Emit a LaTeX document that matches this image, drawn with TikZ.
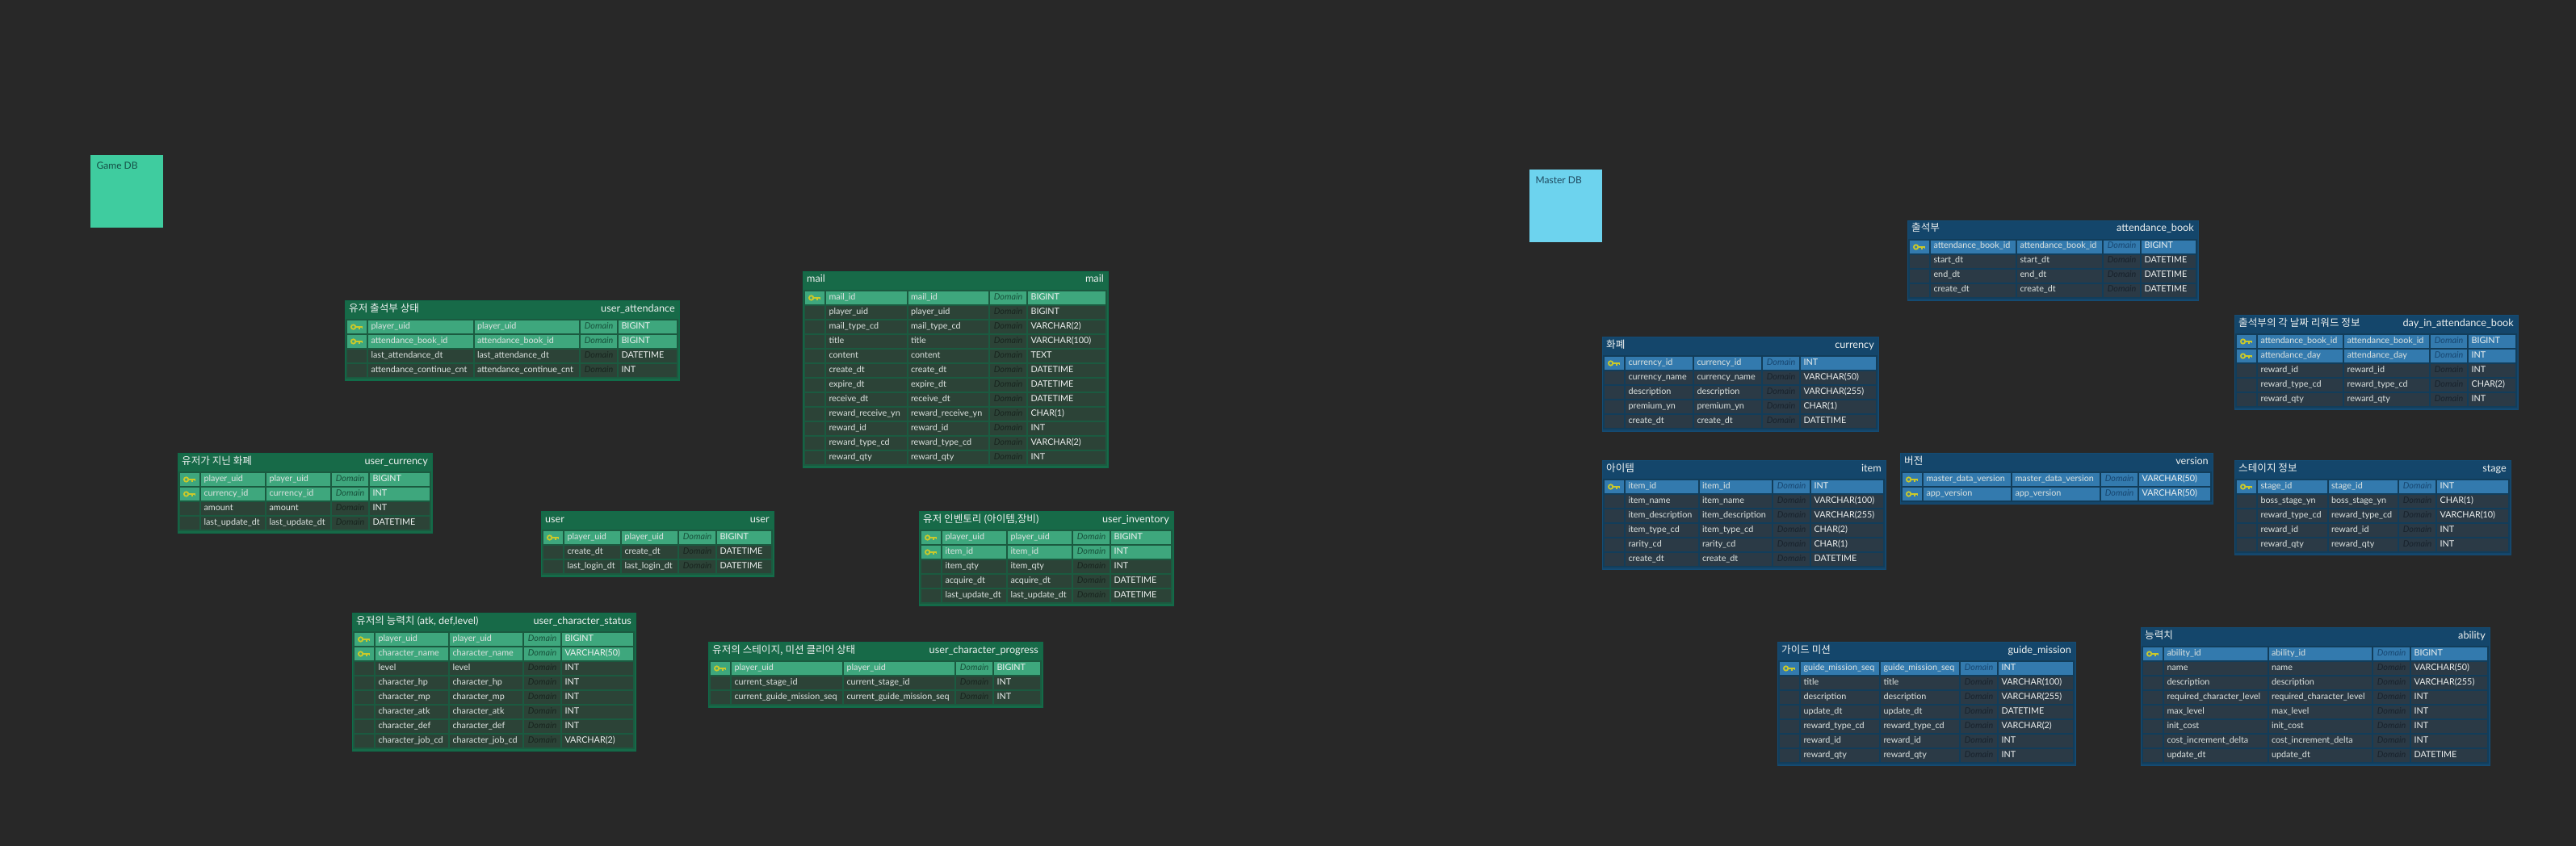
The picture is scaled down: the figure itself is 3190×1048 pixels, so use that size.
\documentclass[tikz,border=0pt]{standalone}
\usepackage{fontspec}
\setmainfont{Lato}
\newfontfamily\kofont{Noto Sans CJK KR}
\usetikzlibrary{matrix, positioning}

\definecolor{bgcol}{HTML}{282828}
\definecolor{celltext}{HTML}{DDE3E0}
\definecolor{typetext}{HTML}{EEF1F0}
\definecolor{keycol}{HTML}{CBC92A}
\definecolor{gamenote}{HTML}{3FCC9F}
\definecolor{gamenotetext}{HTML}{155047}
\definecolor{masternote}{HTML}{6DD3EE}
\definecolor{masternotetext}{HTML}{1F4A60}

% one colour set for each database
\newcommand{\setgreen}{%
    \definecolor{headcol}{HTML}{176A48}%
    \definecolor{framecol}{HTML}{0F6C49}%
    \definecolor{gridcol}{HTML}{1B5A40}%
    \definecolor{pkcol}{HTML}{3EA77D}%
    \definecolor{rowcol}{HTML}{2C4337}%
    \definecolor{pkdom}{HTML}{17503A}%
    \definecolor{rowdom}{HTML}{18241E}}
\newcommand{\setblue}{%
    \definecolor{headcol}{HTML}{14466B}%
    \definecolor{framecol}{HTML}{144C74}%
    \definecolor{gridcol}{HTML}{123D5A}%
    \definecolor{pkcol}{HTML}{337AAE}%
    \definecolor{rowcol}{HTML}{2B3A46}%
    \definecolor{pkdom}{HTML}{174670}%
    \definecolor{rowdom}{HTML}{18222C}}
\setgreen

\newcommand{\ko}[1]{{\kofont #1}}

\tikzset{
    notebox/.style={anchor=north west, minimum width=90pt, minimum height=90pt,
        inner sep=0pt, outer sep=0pt},
    notetext/.style={anchor=base west, inner sep=0pt, font=\fontsize{12}{15}\selectfont},
    tableframe/.style={anchor=north west, fill=headcol, draw=framecol, line width=.8pt,
        inner sep=0pt, outer sep=0pt},
    tabletitle/.style={anchor=base west, inner sep=0pt, text=typetext,
        font=\fontsize{12.6}{15}\selectfont},
    tablename/.style={anchor=base east, inner sep=0pt, text=typetext,
        font=\fontsize{12.7}{15}\selectfont},
    dbgrid/.style={matrix of nodes, nodes in empty cells, fill=gridcol,
        inner sep=2pt, outer sep=0pt, column sep=2pt, row sep=2pt,
        nodes={fill=rowcol, text=celltext, inner xsep=3.5pt, inner ysep=0pt, outer sep=0pt,
            minimum height=16pt, text height=8pt, text depth=4pt, align=left,
            font=\fontsize{10.8}{13}\selectfont}},
    dbcols/.style 2 args={
        column 1/.style={nodes={text width=17pt}},
        column 2/.style={nodes={text width=#1pt-7pt}},
        column 3/.style={nodes={text width=#1pt-7pt}},
        column 4/.style={nodes={text width=38pt, align=center, text=rowdom,
            font=\fontsize{10.8}{13}\selectfont\itshape}},
        column 5/.style={nodes={text width=#2pt-7pt, text=typetext}}},
    pkrows/.style={row #1/.style={nodes={fill=pkcol}},
        row #1 column 4/.style={nodes={text=pkdom}}},
    dbkey/.pic={
        \draw[keycol, line width=1.8pt] (-4.4,0) circle (2.7);
        \draw[keycol, line width=1.8pt] (-1.7,0) -- (7.2,0) (3.2,0) -- (3.2,2.8) (6.4,0) -- (6.4,2.4);
    }
}

% table frame: name, x, y, width, rows, title, table name
\newcommand{\dbframe}[7]{%
    \node[tableframe, minimum width=#4, minimum height={27+18*#5}] (#1-frame) at (#2,#3) {};
    \node[tabletitle] (#1-title) at ([xshift=5pt, yshift=-14pt]#1-frame.north west) {#6};
    \node[tablename] (#1-name) at ([xshift=-5pt, yshift=-14pt]#1-frame.north east) {#7};
}

\begin{document}
\begin{tikzpicture}[x=1pt, y=-1pt]
    \fill[bgcol] (0,0) rectangle (3190,1048);
    \useasboundingbox (0,0) rectangle (3190,1048);

    \node[notebox, fill=gamenote] (gamedb) at (112,192) {};
    \node[notetext, text=gamenotetext] (gamedb-text) at ([xshift=7.5pt, yshift=-18pt]gamedb.north west) {Game DB};
    \node[notebox, fill=masternote] (masterdb) at (1894,210) {};
    \node[notetext, text=masternotetext] (masterdb-text) at ([xshift=7.5pt, yshift=-18pt]masterdb.north west) {Master DB};

    % game tables
    \dbframe{uatt}{427}{372}{414}{4}{\ko{유저 출석부 상태}}{user\_attendance}
    \matrix (uatt) [dbgrid, dbcols={129.5}{72}, pkrows=1, pkrows=2,
        below right=23pt and 1pt of uatt-frame.north west]
    {
        & player\_uid & player\_uid & Domain & BIGINT \\
        & attendance\_book\_id & attendance\_book\_id & Domain & BIGINT \\
        & last\_attendance\_dt & last\_attendance\_dt & Domain & DATETIME \\
        & attendance\_continue\_cnt & attendance\_continue\_cnt & Domain & INT \\
    };
    \foreach \r in {1,2} \pic at (uatt-\r-1) {dbkey};

    \dbframe{ucur}{220}{561}{315}{4}{\ko{유저가 지닌 화폐}}{user\_currency}
    \matrix (ucur) [dbgrid, dbcols={79}{74}, pkrows=1, pkrows=2,
        below right=23pt and 1pt of ucur-frame.north west]
    {
        & player\_uid & player\_uid & Domain & BIGINT \\
        & currency\_id & currency\_id & Domain & INT \\
        & amount & amount & Domain & INT \\
        & last\_update\_dt & last\_update\_dt & Domain & DATETIME \\
    };
    \foreach \r in {1,2} \pic at (ucur-\r-1) {dbkey};

    \dbframe{usr}{670}{633}{288}{3}{user}{user}
    \matrix (usr) [dbgrid, dbcols={69}{67}, pkrows=1,
        below right=23pt and 1pt of usr-frame.north west]
    {
        & player\_uid & player\_uid & Domain & BIGINT \\
        & create\_dt & create\_dt & Domain & DATETIME \\
        & last\_login\_dt & last\_login\_dt & Domain & DATETIME \\
    };
    \pic at (usr-1-1) {dbkey};

    \dbframe{ustat}{436}{759}{351}{8}{\ko{유저의 능력치} (atk, def,level)}{user\_character\_status}
    \matrix (ustat) [dbgrid, dbcols={90}{88}, pkrows=1, pkrows=2,
        below right=23pt and 1pt of ustat-frame.north west]
    {
        & player\_uid & player\_uid & Domain & BIGINT \\
        & character\_name & character\_name & Domain & VARCHAR(50) \\
        & level & level & Domain & INT \\
        & character\_hp & character\_hp & Domain & INT \\
        & character\_mp & character\_mp & Domain & INT \\
        & character\_atk & character\_atk & Domain & INT \\
        & character\_def & character\_def & Domain & INT \\
        & character\_job\_cd & character\_job\_cd & Domain & VARCHAR(2) \\
    };
    \foreach \r in {1,2} \pic at (ustat-\r-1) {dbkey};

    \dbframe{uprog}{877}{795}{414}{3}{\ko{유저의 스테이지, 미션 클리어 상태}}{user\_character\_progress}
    \matrix (uprog) [dbgrid, dbcols={137}{57}, pkrows=1,
        below right=23pt and 1pt of uprog-frame.north west]
    {
        & player\_uid & player\_uid & Domain & BIGINT \\
        & current\_stage\_id & current\_stage\_id & Domain & INT \\
        & current\_guide\_mission\_seq & current\_guide\_mission\_seq & Domain & INT \\
    };
    \pic at (uprog-1-1) {dbkey};

    \dbframe{uinv}{1138}{633}{315}{5}{\ko{유저 인벤토리} (\ko{아이템},\ko{장비})}{user\_inventory}
    \matrix (uinv) [dbgrid, dbcols={79}{74}, pkrows=1, pkrows=2,
        below right=23pt and 1pt of uinv-frame.north west]
    {
        & player\_uid & player\_uid & Domain & BIGINT \\
        & item\_id & item\_id & Domain & INT \\
        & item\_qty & item\_qty & Domain & INT \\
        & acquire\_dt & acquire\_dt & Domain & DATETIME \\
        & last\_update\_dt & last\_update\_dt & Domain & DATETIME \\
    };
    \foreach \r in {1,2} \pic at (uinv-\r-1) {dbkey};

    \dbframe{mail}{994}{336}{378}{12}{mail}{mail}
    \matrix (mail) [dbgrid, dbcols={99.5}{96}, pkrows=1,
        below right=23pt and 1pt of mail-frame.north west]
    {
        & mail\_id & mail\_id & Domain & BIGINT \\
        & player\_uid & player\_uid & Domain & BIGINT \\
        & mail\_type\_cd & mail\_type\_cd & Domain & VARCHAR(2) \\
        & title & title & Domain & VARCHAR(100) \\
        & content & content & Domain & TEXT \\
        & create\_dt & create\_dt & Domain & DATETIME \\
        & expire\_dt & expire\_dt & Domain & DATETIME \\
        & receive\_dt & receive\_dt & Domain & DATETIME \\
        & reward\_receive\_yn & reward\_receive\_yn & Domain & CHAR(1) \\
        & reward\_id & reward\_id & Domain & INT \\
        & reward\_type\_cd & reward\_type\_cd & Domain & VARCHAR(2) \\
        & reward\_qty & reward\_qty & Domain & INT \\
    };
    \pic at (mail-1-1) {dbkey};

    % master tables
    \setblue
    \dbframe{cur}{1984}{417}{342}{5}{\ko{화폐}}{currency}
    \matrix (cur) [dbgrid, dbcols={83}{93}, pkrows=1,
        below right=23pt and 1pt of cur-frame.north west]
    {
        & currency\_id & currency\_id & Domain & INT \\
        & currency\_name & currency\_name & Domain & VARCHAR(50) \\
        & description & description & Domain & VARCHAR(255) \\
        & premium\_yn & premium\_yn & Domain & CHAR(1) \\
        & create\_dt & create\_dt & Domain & DATETIME \\
    };
    \pic at (cur-1-1) {dbkey};

    \dbframe{item}{1984}{570}{351}{6}{\ko{아이템}}{item}
    \matrix (item) [dbgrid, dbcols={89.5}{89}, pkrows=1,
        below right=23pt and 1pt of item-frame.north west]
    {
        & item\_id & item\_id & Domain & INT \\
        & item\_name & item\_name & Domain & VARCHAR(100) \\
        & item\_description & item\_description & Domain & VARCHAR(255) \\
        & item\_type\_cd & item\_type\_cd & Domain & CHAR(2) \\
        & rarity\_cd & rarity\_cd & Domain & CHAR(1) \\
        & create\_dt & create\_dt & Domain & DATETIME \\
    };
    \pic at (item-1-1) {dbkey};

    \dbframe{book}{2362}{273}{360}{4}{\ko{출석부}}{attendance\_book}
    \matrix (book) [dbgrid, dbcols={105}{67}, pkrows=1,
        below right=23pt and 1pt of book-frame.north west]
    {
        & attendance\_book\_id & attendance\_book\_id & Domain & BIGINT \\
        & start\_dt & start\_dt & Domain & DATETIME \\
        & end\_dt & end\_dt & Domain & DATETIME \\
        & create\_dt & create\_dt & Domain & DATETIME \\
    };
    \pic at (book-1-1) {dbkey};

    \dbframe{vers}{2353}{561}{387}{2}{\ko{버전}}{version}
    \matrix (vers) [dbgrid, dbcols={108}{88}, pkrows=1, pkrows=2,
        below right=23pt and 1pt of vers-frame.north west]
    {
        & master\_data\_version & master\_data\_version & Domain & VARCHAR(50) \\
        & app\_version & app\_version & Domain & VARCHAR(50) \\
    };
    \foreach \r in {1,2} \pic at (vers-\r-1) {dbkey};

    \dbframe{day}{2767}{390}{351}{5}{\ko{출석부의 각 날짜 리워드 정보}}{day\_in\_attendance\_book}
    \matrix (day) [dbgrid, dbcols={105}{58}, pkrows=1, pkrows=2,
        below right=23pt and 1pt of day-frame.north west]
    {
        & attendance\_book\_id & attendance\_book\_id & Domain & BIGINT \\
        & attendance\_day & attendance\_day & Domain & INT \\
        & reward\_id & reward\_id & Domain & INT \\
        & reward\_type\_cd & reward\_type\_cd & Domain & CHAR(2) \\
        & reward\_qty & reward\_qty & Domain & INT \\
    };
    \foreach \r in {1,2} \pic at (day-\r-1) {dbkey};

    \dbframe{stage}{2767}{570}{342}{5}{\ko{스테이지 정보}}{stage}
    \matrix (stage) [dbgrid, dbcols={85.5}{88}, pkrows=1,
        below right=23pt and 1pt of stage-frame.north west]
    {
        & stage\_id & stage\_id & Domain & INT \\
        & boss\_stage\_yn & boss\_stage\_yn & Domain & CHAR(1) \\
        & reward\_type\_cd & reward\_type\_cd & Domain & VARCHAR(10) \\
        & reward\_id & reward\_id & Domain & INT \\
        & reward\_qty & reward\_qty & Domain & INT \\
    };
    \pic at (stage-1-1) {dbkey};

    \dbframe{guide}{2201}{795}{369}{7}{\ko{가이드 미션}}{guide\_mission}
    \matrix (guide) [dbgrid, dbcols={97}{92}, pkrows=1,
        below right=23pt and 1pt of guide-frame.north west]
    {
        & guide\_mission\_seq & guide\_mission\_seq & Domain & INT \\
        & title & title & Domain & VARCHAR(100) \\
        & description & description & Domain & VARCHAR(255) \\
        & update\_dt & update\_dt & Domain & DATETIME \\
        & reward\_type\_cd & reward\_type\_cd & Domain & VARCHAR(2) \\
        & reward\_id & reward\_id & Domain & INT \\
        & reward\_qty & reward\_qty & Domain & INT \\
    };
    \pic at (guide-1-1) {dbkey};

    \dbframe{abil}{2651}{777}{432}{8}{\ko{능력치}}{ability}
    \matrix (abil) [dbgrid, dbcols={127.5}{94}, pkrows=1,
        below right=23pt and 1pt of abil-frame.north west]
    {
        & ability\_id & ability\_id & Domain & BIGINT \\
        & name & name & Domain & VARCHAR(50) \\
        & description & description & Domain & VARCHAR(255) \\
        & required\_character\_level & required\_character\_level & Domain & INT \\
        & max\_level & max\_level & Domain & INT \\
        & init\_cost & init\_cost & Domain & INT \\
        & cost\_increment\_delta & cost\_increment\_delta & Domain & INT \\
        & update\_dt & update\_dt & Domain & DATETIME \\
    };
    \pic at (abil-1-1) {dbkey};
\end{tikzpicture}
\end{document}
